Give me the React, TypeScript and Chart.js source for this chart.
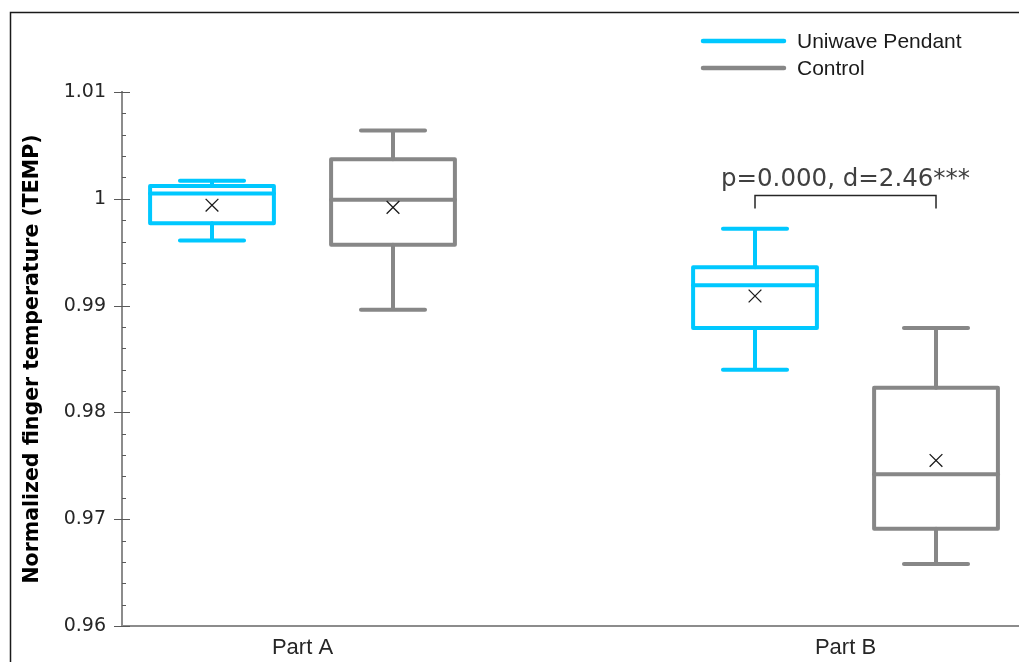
import React, { useEffect, useRef } from 'react';
import { Chart, registerables } from 'chart.js';

Chart.register(...registerables);

// ---- data ----
const categories = ['Part A', 'Part B'];
const seriesNames = ['Uniwave Pendant', 'Control'];
const seriesColors = ['#00c8ff', '#878787'];

const pendantMin = [0.9961, 0.984];
const pendantQ1 = [0.9977, 0.9879];
const pendantMedian = [1.0005, 0.9919];
const pendantQ3 = [1.0012, 0.9936];
const pendantMax = [1.0017, 0.9972];
const pendantMean = [0.9994, 0.9909];

const controlMin = [0.9896, 0.9658];
const controlQ1 = [0.9957, 0.9691];
const controlMedian = [0.9999, 0.9742];
const controlQ3 = [1.0037, 0.9823];
const controlMax = [1.0064, 0.9879];
const controlMean = [0.9992, 0.9755];

const yMin = 0.96;
const yMax = 1.01;
const yStep = 0.01;
const yMinorStep = 0.002;

const annotationText = 'p=0.000, d=2.46***';
const annotationLevel = 1.0003; // bracket height (value units)
const annotationCategory = 1; // Part B

// ---- layout / style constants ----
const W = 1019;
const H = 662;
const GROUP_OFFSET = 1 / 6; // box offset from category centre (category units)
const BOX_WIDTH = 0.228;
const CAP_WIDTH = 0.118;

const seriesStats = [
  { min: pendantMin, q1: pendantQ1, median: pendantMedian, q3: pendantQ3, max: pendantMax, mean: pendantMean },
  { min: controlMin, q1: controlQ1, median: controlMedian, q3: controlQ3, max: controlMax, mean: controlMean },
];

const seriesX = (s: number, i: number) => i + (s === 0 ? -GROUP_OFFSET : GROUP_OFFSET);

const boxPlugin = {
  id: 'boxes',
  beforeDatasetsDraw(chart: any) {
    const { ctx, scales } = chart;
    const xs = scales.x;
    const ys = scales.y;
    ctx.save();
    ctx.lineJoin = 'round';
    ctx.lineCap = 'round';
    ctx.lineWidth = 4;
    seriesStats.forEach((st, s) => {
      ctx.strokeStyle = seriesColors[s];
      categories.forEach((_, i) => {
        const c = seriesX(s, i);
        const xc = xs.getPixelForValue(c);
        const xl = xs.getPixelForValue(c - BOX_WIDTH / 2);
        const xr = xs.getPixelForValue(c + BOX_WIDTH / 2);
        const cl = xs.getPixelForValue(c - CAP_WIDTH / 2);
        const cr = xs.getPixelForValue(c + CAP_WIDTH / 2);
        const yq1 = ys.getPixelForValue(st.q1[i]);
        const yq3 = ys.getPixelForValue(st.q3[i]);
        const ymed = ys.getPixelForValue(st.median[i]);
        const ymin = ys.getPixelForValue(st.min[i]);
        const ymax = ys.getPixelForValue(st.max[i]);
        ctx.beginPath();
        ctx.moveTo(xc, yq3);
        ctx.lineTo(xc, ymax);
        ctx.moveTo(cl, ymax);
        ctx.lineTo(cr, ymax);
        ctx.moveTo(xc, yq1);
        ctx.lineTo(xc, ymin);
        ctx.moveTo(cl, ymin);
        ctx.lineTo(cr, ymin);
        ctx.stroke();
        ctx.beginPath();
        ctx.rect(xl, yq3, xr - xl, yq1 - yq3);
        ctx.stroke();
        ctx.beginPath();
        ctx.moveTo(xl, ymed);
        ctx.lineTo(xr, ymed);
        ctx.stroke();
      });
    });
    ctx.restore();
  },
};

const decorPlugin = {
  id: 'decor',
  afterDraw(chart: any) {
    const { ctx, scales, chartArea } = chart;
    const xs = scales.x;
    const ys = scales.y;
    ctx.save();
    // y-axis tick marks (major + minor)
    const axisX = chartArea.left;
    ctx.strokeStyle = '#595959';
    ctx.lineWidth = 1;
    const nMinor = Math.round((yMax - yMin) / yMinorStep);
    for (let k = 0; k <= nMinor; k++) {
      const v = yMin + k * yMinorStep;
      const y = Math.round(ys.getPixelForValue(v)) + 0.5;
      const major = k % Math.round(yStep / yMinorStep) === 0;
      ctx.beginPath();
      if (major) {
        ctx.moveTo(axisX - 8, y);
        ctx.lineTo(axisX + 8, y);
      } else {
        ctx.moveTo(axisX, y);
        ctx.lineTo(axisX + 4, y);
      }
      ctx.stroke();
    }

    // significance bracket
    const xa = xs.getPixelForValue(seriesX(0, annotationCategory));
    const xb = xs.getPixelForValue(seriesX(1, annotationCategory));
    const yb = ys.getPixelForValue(annotationLevel);
    ctx.strokeStyle = '#262626';
    ctx.lineWidth = 1.5;
    ctx.lineCap = 'butt';
    ctx.beginPath();
    ctx.moveTo(xa, yb + 13);
    ctx.lineTo(xa, yb);
    ctx.lineTo(xb, yb);
    ctx.lineTo(xb, yb + 13);
    ctx.stroke();
    ctx.fillStyle = '#404040';
    ctx.font = '24.5px "DejaVu Sans"';
    ctx.textAlign = 'center';
    ctx.textBaseline = 'middle';
    ctx.fillText(annotationText, (xa + xb) / 2, yb - 16);

    // legend
    ctx.lineCap = 'round';
    ctx.lineWidth = 4.5;
    ctx.font = '21px "Liberation Sans"';
    ctx.textAlign = 'left';
    ctx.fillStyle = '#1a1a1a';
    seriesNames.forEach((name, s) => {
      const y = 41 + s * 27;
      ctx.strokeStyle = seriesColors[s];
      ctx.beginPath();
      ctx.moveTo(703, y);
      ctx.lineTo(784, y);
      ctx.stroke();
      ctx.fillText(name, 797, y + 1);
    });

    // frame
    ctx.strokeStyle = '#1a1a1a';
    ctx.lineWidth = 1.5;
    ctx.lineCap = 'butt';
    ctx.beginPath();
    ctx.moveTo(10.5, H);
    ctx.lineTo(10.5, 12.5);
    ctx.lineTo(W, 12.5);
    ctx.stroke();
    ctx.restore();
  },
};

export default function App() {
  const ref = useRef<HTMLCanvasElement | null>(null);
  useEffect(() => {
    if (!ref.current) return;
    const datasets = seriesNames.map((name, s) => ({
      label: name,
      data: categories.map((_, i) => ({ x: seriesX(s, i), y: seriesStats[s].mean[i] })),
      pointStyle: 'crossRot',
      pointRadius: 9,
      pointHoverRadius: 9,
      borderColor: '#1a1a1a',
      backgroundColor: 'rgba(0,0,0,0)',
      borderWidth: 1.3,
      showLine: false,
    }));
    const chart = new Chart(ref.current, {
      type: 'scatter',
      data: { datasets } as any,
      plugins: [boxPlugin, decorPlugin],
      options: {
        animation: false,
        responsive: false,
        events: [],
        devicePixelRatio: 1,
        layout: { autoPadding: false, padding: { top: 92, left: 0, right: 0, bottom: 0 } },
        plugins: { legend: { display: false }, tooltip: { enabled: false } },
        scales: {
          x: {
            type: 'linear',
            min: -0.3324,
            max: 1.3195,
            afterFit: (scale: any) => {
              scale.height = 36;
              scale.paddingLeft = 0;
              scale.paddingRight = 0;
            },
            afterBuildTicks: (scale: any) => {
              scale.ticks = categories.map((_, i) => ({ value: i }));
            },
            ticks: {
              callback: (v: any) => categories[Math.round(Number(v))] ?? '',
              font: { family: '"Liberation Sans"', size: 22 },
              color: '#262626',
              padding: 9,
              maxRotation: 0,
              autoSkip: false,
            },
            grid: { display: true, drawOnChartArea: false, drawTicks: false },
            border: { display: true, color: '#8c8c8c', width: 2 },
          },
          y: {
            type: 'linear',
            min: yMin,
            max: yMax,
            afterFit: (scale: any) => {
              scale.width = 122;
              scale.paddingTop = 0;
              scale.paddingBottom = 0;
            },
            ticks: {
              stepSize: yStep,
              callback: (v: any) => String(parseFloat(Number(v).toFixed(3))),
              font: { family: '"DejaVu Sans"', size: 19 },
              color: '#262626',
              padding: 16,
            },
            grid: { display: true, drawOnChartArea: false, drawTicks: false },
            border: { display: true, color: '#8c8c8c', width: 2 },
            title: {
              display: true,
              text: 'Normalized finger temperature (TEMP)',
              font: { family: '"DejaVu Sans"', size: 20.5, weight: 'bold' },
              color: '#000000',
              padding: { top: 20, bottom: 0 },
            },
          },
        },
      } as any,
    });
    return () => chart.destroy();
  }, []);
  return (
    <div style={{ position: 'fixed', left: 0, top: 0, width: W, height: H, background: '#ffffff', overflow: 'hidden' }}>
      <canvas ref={ref} width={W} height={H} style={{ display: 'block', width: W, height: H }} />
    </div>
  );
}
